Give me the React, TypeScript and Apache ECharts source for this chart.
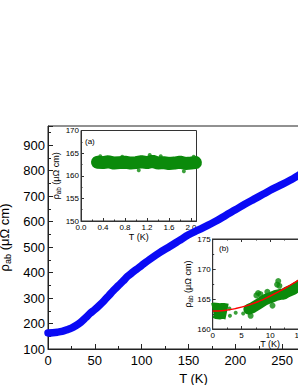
import React, { useEffect, useRef } from 'react';
import * as echarts from 'echarts';

// Main panel: rho_ab vs T
const mainT = [0, 5, 10, 15, 20, 25, 30, 35, 40, 45, 50, 55, 60, 65, 70, 75, 80, 85, 90, 95, 100, 110, 120, 130, 140, 150, 160, 170, 180, 190, 200, 210, 220, 230, 240, 250, 260, 270, 280, 290, 300];
const mainRho = [163, 164, 166, 169, 175, 182, 192, 205, 222, 240, 255, 272, 290, 310, 330, 348, 366, 385, 400, 414, 428, 455, 480, 502, 525, 548, 566, 584, 603, 625, 646, 668, 688, 708, 728, 746, 765, 787, 802, 819, 836];

// Inset (a): 0.3 - 2.1 K
const insetAT = [0.3, 0.4, 0.5, 0.6, 0.7, 0.8, 0.9, 1.0, 1.1, 1.2, 1.3, 1.4, 1.5, 1.6, 1.7, 1.8, 1.9, 2.0, 2.08];
const insetARho = [163.0, 162.9, 163.1, 162.8, 162.9, 163.0, 162.8, 162.9, 163.1, 162.9, 163.2, 162.8, 162.9, 162.7, 162.8, 163.0, 162.7, 162.8, 162.9];
const insetABumpT = [0.35, 0.75, 1.25, 1.45, 1.87, 1.05, 2.05];
const insetABumpRho = [164.3, 164.2, 164.6, 164.3, 161.0, 161.2, 164.2];

// Inset (b): low-T cluster, isolated points, rising band, fit
const insetBClusterT = [0.05, 0.5, 1.0, 1.5, 2.0, 2.5];
const insetBClusterRho = [163.0, 163.1, 162.9, 163.0, 163.0, 162.9];
const insetBDotT = [4.0, 5.3, 2.9, 3.0];
const insetBDotRho = [162.7, 162.6, 163.4, 162.2];
const insetBBandT = [6.3, 7.0, 8.0, 9.0, 9.4, 10.0, 11.0, 12.0, 12.3, 13.0, 14.0, 14.6, 15.5, 16.5, 18.0, 20.0];
const insetBBandRho = [163.3, 163.6, 164.2, 164.8, 165.0, 165.2, 165.6, 165.8, 165.8, 166.2, 166.6, 167.0, 167.5, 168.0, 169.0, 170.0];
const insetBBumpT = [7.6, 7.9, 8.3, 9.5, 11.2, 11.4, 11.6, 6.6, 10.4];
const insetBBumpRho = [165.6, 166.0, 165.8, 166.2, 167.4, 168.0, 167.2, 162.2, 163.9];
const fitT = [0, 2, 4, 6, 8, 10, 12, 14, 16, 18, 20];
const fitRho = [163.0, 163.1, 163.4, 163.9, 164.6, 165.5, 166.5, 167.6, 168.9, 170.3, 171.9];

const FONT = 'Liberation Sans, Arial, sans-serif';
const BLUE = '#0a0af5';
const GREEN = '#0b8a0b';

const zip = (xs: number[], ys: number[]) => xs.map((x, i) => [x, ys[i]]);

function rhoName(size: number) {
  return {
    name: '{a|ρ}{b|ab}{a| (μΩ cm)}',
    nameTextStyle: {
      fontFamily: FONT,
      color: '#000',
      rich: {
        a: { fontSize: size, fontFamily: FONT, color: '#000', lineHeight: size + 2 },
        b: { fontSize: size * 0.7, fontFamily: FONT, color: '#000', lineHeight: size * 0.7, padding: [Math.round(size * 0.55), 0, 0, 0], verticalAlign: 'bottom' },
      },
    },
  };
}

export default function App() {
  const ref = useRef<HTMLDivElement>(null);
  useEffect(() => {
    const chart = echarts.init(ref.current!, null, { renderer: 'svg' });
    const axisLine = (c: string) => ({ show: true, lineStyle: { color: c, width: 1 } });
    const option: any = {
      animation: false,
      backgroundColor: '#fff',
      grid: [
        { left: 48, top: 126, width: 281, height: 223, show: true, borderColor: '#222', borderWidth: 1, backgroundColor: 'transparent', outerBoundsMode: 'none', containLabel: false },
        { left: 81, top: 130.5, width: 115.5, height: 90.5, show: true, borderColor: '#333', borderWidth: 1, backgroundColor: '#fff', outerBoundsMode: 'none', containLabel: false },
        { left: 212.7, top: 239, width: 115, height: 90, show: true, borderColor: '#333', borderWidth: 1, backgroundColor: '#fff', outerBoundsMode: 'none', containLabel: false },
      ],
      xAxis: [
        {
          gridIndex: 0, type: 'value', min: 0, max: 300, interval: 50,
          name: 'T (K)', nameLocation: 'middle', nameGap: 20,
          nameTextStyle: { fontFamily: FONT, fontSize: 13, color: '#000', padding: [0, 0, 0, 10] },
          axisLine: axisLine('#222'),
          axisTick: { inside: true, length: 5, lineStyle: { color: '#222' } },
          minorTick: { show: true, splitNumber: 2, length: 3, lineStyle: { color: '#222' } },
          axisLabel: { fontFamily: FONT, fontSize: 13, color: '#000', margin: 5, showMaxLabel: false },
          splitLine: { show: false },
        },
        {
          gridIndex: 1, type: 'value', min: 0, max: 2.1, interval: 0.4,
          name: 'T (K)', nameLocation: 'middle', nameGap: 11,
          nameTextStyle: { fontFamily: FONT, fontSize: 9, color: '#000' },
          axisLine: axisLine('#333'),
          axisTick: { inside: true, length: 3, lineStyle: { color: '#333' } },
          minorTick: { show: true, splitNumber: 2, length: 1.5, lineStyle: { color: '#333' } },
          axisLabel: { fontFamily: FONT, fontSize: 8, color: '#000', margin: 2, showMaxLabel: false, formatter: (v: number) => v.toFixed(1) },
          splitLine: { show: false },
        },
        {
          gridIndex: 2, type: 'value', min: 0, max: 20, interval: 5,
          name: 'T (K)', nameLocation: 'middle', nameGap: 9,
          nameTextStyle: { fontFamily: FONT, fontSize: 9, color: '#000' },
          axisLine: axisLine('#333'),
          axisTick: { inside: true, length: 3, lineStyle: { color: '#333' } },
          minorTick: { show: true, splitNumber: 2, length: 1.5, lineStyle: { color: '#333' } },
          axisLabel: { fontFamily: FONT, fontSize: 8, color: '#000', margin: 2 },
          splitLine: { show: false },
        },
        {
          gridIndex: 2, type: 'value', min: 0, max: 20, interval: 5, position: 'top',
          axisLine: axisLine('#333'),
          axisTick: { inside: true, length: 3, lineStyle: { color: '#333' } },
          minorTick: { show: true, splitNumber: 2, length: 1.5, lineStyle: { color: '#333' } },
          axisLabel: { show: false },
          splitLine: { show: false },
        },
      ],
      yAxis: [
        {
          gridIndex: 0, type: 'value', min: 100, max: 975, interval: 100,
          ...rhoName(13), nameLocation: 'middle', nameGap: 26,
          axisLine: axisLine('#222'),
          axisTick: { inside: true, length: 5, lineStyle: { color: '#222' } },
          minorTick: { show: true, splitNumber: 2, length: 3, lineStyle: { color: '#222' } },
          axisLabel: { fontFamily: FONT, fontSize: 13, color: '#000', margin: 3, showMaxLabel: false },
          splitLine: { show: false },
        },
        {
          gridIndex: 1, type: 'value', min: 150, max: 170, interval: 5,
          ...rhoName(9), nameLocation: 'middle', nameGap: 14,
          axisLine: axisLine('#333'),
          axisTick: { inside: true, length: 3, lineStyle: { color: '#333' } },
          minorTick: { show: true, splitNumber: 2, length: 1.5, lineStyle: { color: '#333' } },
          axisLabel: { fontFamily: FONT, fontSize: 8, color: '#000', margin: 2 },
          splitLine: { show: false },
        },
        {
          gridIndex: 2, type: 'value', min: 160, max: 175, interval: 5,
          ...rhoName(9), nameLocation: 'middle', nameGap: 15,
          axisLine: axisLine('#333'),
          axisTick: { inside: true, length: 3, lineStyle: { color: '#333' } },
          minorTick: { show: true, splitNumber: 2, length: 1.5, lineStyle: { color: '#333' } },
          axisLabel: { fontFamily: FONT, fontSize: 8, color: '#000', margin: 2 },
          splitLine: { show: false },
        },
      ],
      series: [
        {
          type: 'line', xAxisIndex: 0, yAxisIndex: 0, data: zip(mainT, mainRho),
          showSymbol: false, smooth: 0.3, lineStyle: { color: BLUE, width: 7.5, cap: 'round' }, z: 3,
        },
        {
          type: 'line', xAxisIndex: 1, yAxisIndex: 1, data: zip(insetAT, insetARho),
          showSymbol: false, lineStyle: { color: GREEN, width: 13, cap: 'round' }, z: 5,
        },
        {
          type: 'scatter', xAxisIndex: 1, yAxisIndex: 1, data: zip(insetABumpT, insetABumpRho),
          symbolSize: 4, itemStyle: { color: GREEN }, z: 5,
        },
        {
          type: 'line', xAxisIndex: 2, yAxisIndex: 2, data: zip(insetBClusterT, insetBClusterRho),
          showSymbol: false, lineStyle: { color: GREEN, width: 16, cap: 'butt' }, z: 5,
        },
        {
          type: 'line', xAxisIndex: 2, yAxisIndex: 2, data: zip(insetBBandT, insetBBandRho),
          showSymbol: false, lineStyle: { color: GREEN, width: 11, cap: 'round' }, z: 5,
        },
        {
          type: 'scatter', xAxisIndex: 2, yAxisIndex: 2, data: zip(insetBBumpT, insetBBumpRho),
          symbolSize: 6, itemStyle: { color: GREEN }, z: 5,
        },
        {
          type: 'scatter', xAxisIndex: 2, yAxisIndex: 2, data: zip(insetBDotT, insetBDotRho),
          symbolSize: 4, itemStyle: { color: GREEN }, z: 5,
        },
        {
          type: 'line', xAxisIndex: 2, yAxisIndex: 2, data: zip(fitT, fitRho),
          showSymbol: false, smooth: true, lineStyle: { color: '#ff0000', width: 1.5 }, z: 6,
        },
      ],
      graphic: [
        { type: 'text', left: 85, top: 137, style: { text: '(a)', fontFamily: FONT, fontSize: 8, fill: '#000' }, z: 10 },
        { type: 'text', left: 219, top: 244, style: { text: '(b)', fontFamily: FONT, fontSize: 8, fill: '#000' }, z: 10 },
      ],
    };
    chart.setOption(option);
    return () => chart.dispose();
  }, []);
  return <div ref={ref} style={{ position: 'absolute', left: 0, top: 0, width: 298, height: 385 }} />;
}
